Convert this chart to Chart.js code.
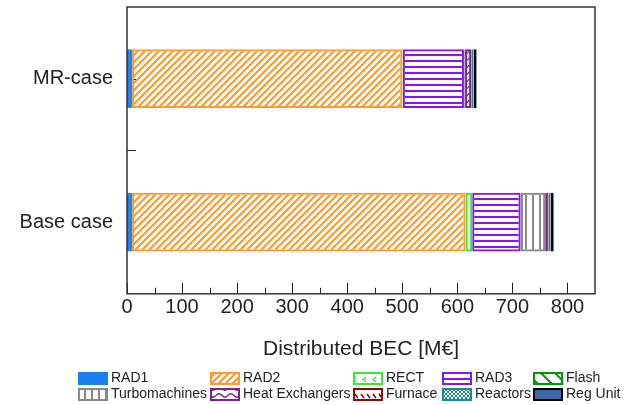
<!DOCTYPE html>
<html>
<head>
<meta charset="utf-8">
<script src="https://cdn.jsdelivr.net/npm/chart.js@4.4.0/dist/chart.umd.min.js"></script>
<style>
  html, body { margin: 0; padding: 0; background: #fff; }
</style>
</head>
<body>
<canvas id="chart" width="630" height="405"></canvas>
<script>
// categories (top to bottom) and cost parts, in stacking order
const cases = ["MR-case", "Base case"];
const parts = ["RAD1", "RAD2", "RECT", "RAD3", "Flash",
               "Turbomachines", "Heat Exchangers", "Furnace", "Reactors", "Reg Unit"];

// distributed BEC per part [M€]
const mrCase   = [9, 491, 1, 111, 0.5, 1.5, 11, 1, 3.5, 5.5];
const baseCase = [9, 606, 12, 88, 0.5, 44, 5, 1, 4, 5.5];

// axis ticks
const xTicks = [0, 100, 200, 300, 400, 500, 600, 700, 800];
const xMinorTicks = [50, 150, 250, 350, 450, 550, 650, 750];

const FONT = "'Liberation Sans', Arial, Helvetica, sans-serif";
const INK = "#222";

// build a repeating hatch pattern from a small tile
function hatch(color, w, h, lw, draw) {
  const c = document.createElement("canvas");
  c.width = w;
  c.height = h;
  const g = c.getContext("2d");
  g.strokeStyle = color;
  g.fillStyle = color;
  g.lineWidth = lw;
  g.beginPath();
  draw(g, w, h);
  g.stroke();
  return g.createPattern(c, "repeat");
}

const colors = ["#1a80f0", "#ff9a2e", "#33ee33", "#8a10ff", "#009a00",
                "#888888", "#80208f", "#8b0a0a", "#1a8f8f", "#000000"];

const fills = [
  "#1a80f0",
  hatch("#ff9a2e", 7, 7, 2.2, (g, s) => {
    g.moveTo(0, s); g.lineTo(s, 0);
    g.moveTo(-s / 2, s / 2); g.lineTo(s / 2, -s / 2);
    g.moveTo(s / 2, s * 1.5); g.lineTo(s * 1.5, s / 2);
  }),
  hatch("#33ee33", 10, 8, 1.3, (g) => {
    g.moveTo(6, 1); g.lineTo(3, 3.5); g.lineTo(6, 6);
  }),
  hatch("#8a10ff", 4, 6, 1, (g) => { g.fillRect(0, 0, 4, 2); }),
  hatch("#009a00", 14, 14, 2, (g, s) => {
    g.moveTo(0, 0); g.lineTo(s, s);
    g.moveTo(-s / 2, s / 2); g.lineTo(s / 2, s * 1.5);
    g.moveTo(s / 2, -s / 2); g.lineTo(s * 1.5, s / 2);
  }),
  hatch("#888888", 7, 4, 1, (g) => { g.fillRect(0, 0, 2, 4); }),
  hatch("#80208f", 12, 7, 1.5, (g) => {
    g.moveTo(0, 3.5);
    g.quadraticCurveTo(3, 0, 6, 3.5);
    g.quadraticCurveTo(9, 7, 12, 3.5);
  }),
  hatch("#8b0a0a", 6, 8, 1.5, (g) => { g.moveTo(1, 2); g.lineTo(4, 6); }),
  hatch("#1a8f8f", 4, 4, 1, (g) => {
    g.moveTo(0, 0); g.lineTo(4, 4);
    g.moveTo(4, 0); g.lineTo(0, 4);
  }),
  "#3a68a8"
];

const datasets = parts.map((name, i) => ({
  label: name,
  data: [mrCase[i], baseCase[i]],
  backgroundColor: fills[i],
  borderColor: colors[i],
  borderWidth: 2,
  borderSkipped: false,
  barPercentage: 0.41,
  categoryPercentage: 1
}));

// frame, inward ticks and the 5 x 2 legend (MATLAB look)
const matlabAxes = {
  id: "matlabAxes",
  beforeDatasetsDraw(chart) {
    const { ctx, chartArea: a, scales: { y } } = chart;
    const centers = cases.map((c, i) => y.getPixelForTick(i));
    const ys = [centers[0], (centers[0] + centers[1]) / 2, centers[1]];
    ctx.save();
    ctx.strokeStyle = INK;
    ctx.lineWidth = 1;
    ys.forEach((py) => {
      ctx.beginPath();
      ctx.moveTo(a.left, Math.round(py) + 0.5);
      ctx.lineTo(a.left + 9, Math.round(py) + 0.5);
      ctx.stroke();
    });
    ctx.restore();
  },
  afterDatasetsDraw(chart) {
    const { ctx, chartArea: a, scales: { x } } = chart;
    ctx.save();
    ctx.strokeStyle = INK;
    ctx.lineWidth = 1;
    const tick = (v, len) => {
      const px = Math.round(x.getPixelForValue(v)) + 0.5;
      ctx.beginPath();
      ctx.moveTo(px, a.bottom);
      ctx.lineTo(px, a.bottom - len);
      ctx.stroke();
    };
    xTicks.forEach((v) => tick(v, 11));
    xMinorTicks.forEach((v) => tick(v, 6));
    ctx.strokeStyle = "#333";
    ctx.lineWidth = 1.5;
    ctx.strokeRect(a.left, a.top, a.right - a.left, a.bottom - a.top);
    ctx.restore();
  },
  afterDraw(chart) {
    const { ctx } = chart;
    const cols = [78, 210, 353, 442, 533];
    const rows = [372, 388];
    ctx.save();
    ctx.font = "14px " + FONT;
    ctx.textBaseline = "middle";
    chart.data.datasets.forEach((ds, i) => {
      const bx = cols[i % 5];
      const by = rows[Math.floor(i / 5)];
      ctx.fillStyle = "#fff";
      ctx.fillRect(bx, by, 30, 13);
      ctx.fillStyle = ds.backgroundColor;
      ctx.fillRect(bx, by, 30, 13);
      ctx.strokeStyle = ds.borderColor;
      ctx.lineWidth = 2;
      ctx.strokeRect(bx + 1, by + 1, 28, 11);
      ctx.fillStyle = INK;
      ctx.fillText(ds.label, bx + 33, by + 6.5);
    });
    ctx.restore();
  }
};

new Chart(document.getElementById("chart"), {
  type: "bar",
  data: { labels: cases, datasets: datasets },
  plugins: [matlabAxes],
  options: {
    indexAxis: "y",
    responsive: false,
    animation: false,
    layout: { padding: { left: 0, right: 35, top: 7, bottom: 39 } },
    plugins: {
      legend: { display: false },
      tooltip: { enabled: false }
    },
    scales: {
      x: {
        stacked: true,
        min: 0,
        max: 850,
        grid: { display: false, drawTicks: false },
        border: { display: false },
        afterBuildTicks: (scale) => {
          scale.ticks = xTicks.map((v) => ({ value: v }));
        },
        afterFit: (scale) => {
          scale.paddingLeft = 0;
          scale.paddingRight = 0;
        },
        ticks: {
          padding: 2,
          color: INK,
          font: { family: FONT, size: 20 },
          maxRotation: 0,
          autoSkip: false
        },
        title: {
          display: true,
          text: "Distributed BEC [M€]",
          color: INK,
          font: { family: FONT, size: 21 },
          padding: { top: 15, bottom: 4 }
        }
      },
      y: {
        stacked: true,
        grid: { display: false, drawTicks: false },
        border: { display: false },
        afterFit: (scale) => {
          scale.width = 127;
          scale.paddingTop = 0;
          scale.paddingBottom = 0;
        },
        ticks: {
          padding: 14,
          color: INK,
          font: { family: FONT, size: 20 }
        }
      }
    }
  }
});
</script>
</body>
</html>
